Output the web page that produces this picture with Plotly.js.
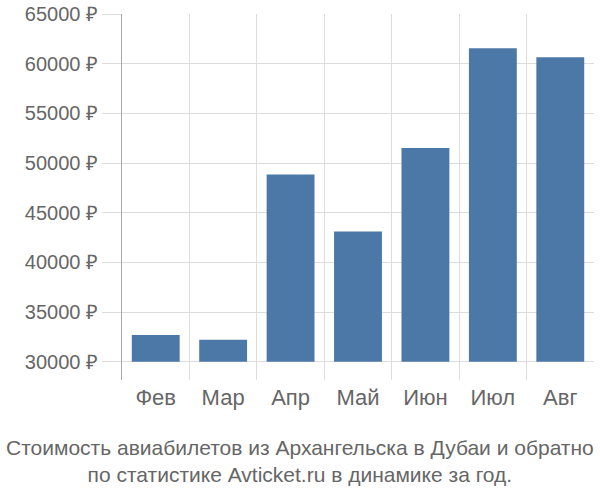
<!DOCTYPE html>
<html><head><meta charset="utf-8">
<script src="https://cdn.plot.ly/plotly-3.0.1.min.js"></script>
<style>body{margin:0;}#c{width:600px;height:500px;}</style>
</head><body><div id="c"></div>
<script>
const months = ["Фев","Мар","Апр","Май","Июн","Июл","Авг"];
const prices = [32700, 32200, 48850, 43100, 51500, 61550, 60650];
const baseValue = 30000;
const yTicks = [30000,35000,40000,45000,50000,55000,60000,65000];
const yTickText = yTicks.map(v => v + " ₽");
const titleLines = ["Стоимость авиабилетов из Архангельска в Дубаи и обратно","по статистике Avticket.ru в динамике за год."];

const trace = {
  type: "bar",
  x: months,
  y: prices.map(v => v - baseValue),
  base: prices.map(() => baseValue),
  marker: {color: "#4c78a8"},
  width: 0.71,
  hoverinfo: "none"
};
const layout = {
  width: 600, height: 500,
  margin: {l: 122, r: 6, t: 14, b: 120},
  paper_bgcolor: "#fff", plot_bgcolor: "#fff",
  showlegend: false,
  font: {family: "Liberation Sans, Arial, sans-serif", color: "#666"},
  xaxis: {
    type: "category", range: [-0.5, 6.5], tickson: "boundaries",
    showgrid: true, gridcolor: "#ddd", gridwidth: 1,
    ticks: "", tickfont: {size: 22, color: "#666"}, zeroline: false,
    showline: false, ticklabelstandoff: 2
  },
  yaxis: {
    range: [28160, 65000], tickvals: yTicks, ticktext: yTickText,
    showgrid: true, gridcolor: "#ddd", gridwidth: 1,
    ticks: "outside", ticklen: 19, tickcolor: "#ddd", ticklabelstandoff: 0,
    tickfont: {size: 20, color: "#666"}, zeroline: false,
    showline: true, linecolor: "#aaa", linewidth: 1
  },
  annotations: [{
    xref: "paper", yref: "paper", x: 0.5, y: 0, xanchor: "center", yanchor: "top",
    xshift: -58, yshift: -54,
    text: titleLines.join("<br>"), showarrow: false,
    font: {size: 21, color: "#666", family: "Liberation Sans, Arial, sans-serif"}
  }]
};
Plotly.newPlot("c", [trace], layout, {staticPlot: true});
</script></body></html>
